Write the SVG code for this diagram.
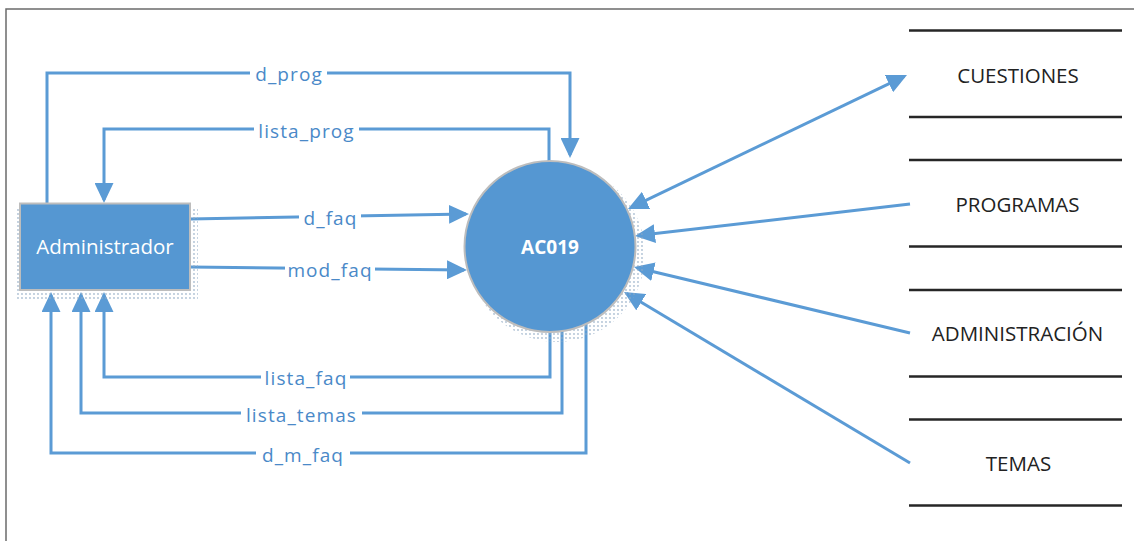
<svg xmlns="http://www.w3.org/2000/svg" width="1134" height="541" viewBox="0 0 1134 541">
<style>
.c{fill:none;stroke:#5b9bd5;stroke-width:3;stroke-linejoin:miter}
.lbl{font-family:"Open Sans",sans-serif;font-size:19px;letter-spacing:1.1px;fill:#4a89c8;text-anchor:middle}
.gap{fill:#ffffff}
.st{stroke:#262626;stroke-width:2.5}
.stt{font-family:"Open Sans",sans-serif;font-size:20.5px;fill:#222222;text-anchor:middle}
</style>
<defs>
<marker id="ah" viewBox="0 0 20 19" refX="17" refY="9.5" markerWidth="20" markerHeight="19" markerUnits="userSpaceOnUse" orient="auto-start-reverse">
<path d="M0,0 L20,9.5 L0,19 Z" fill="#5b9bd5"/>
</marker>
<pattern id="dots" width="4" height="4" patternUnits="userSpaceOnUse">
<circle cx="2" cy="2" r="0.9" fill="#8fa9c4"/>
</pattern>
</defs>
<rect width="1134" height="541" fill="#ffffff"/>
<path d="M6,541 V9 H1134" fill="none" stroke="#6b6b6b" stroke-width="1.5"/>

<g id="connectors">
<path class="c" d="M47,204 V73 H570 V155" marker-end="url(#ah)"/>
<path class="c" d="M549,161 V129 H104 V200" marker-end="url(#ah)"/>
<path class="c" d="M190,219 L466,214" marker-end="url(#ah)"/>
<path class="c" d="M190,267 L464,270" marker-end="url(#ah)"/>
<path class="c" d="M550,330 V377 H104 V295" marker-end="url(#ah)"/>
<path class="c" d="M562,330 V413 H81 V295" marker-end="url(#ah)"/>
<path class="c" d="M586,322 V453 H51 V295" marker-end="url(#ah)"/>
<path class="c" d="M630.7,207.7 L904.3,76.3" marker-start="url(#ah)" marker-end="url(#ah)"/>
<path class="c" d="M910,204 L638,235.6" marker-end="url(#ah)"/>
<path class="c" d="M910,333 L636.9,267.7" marker-end="url(#ah)"/>
<path class="c" d="M910,463 L626.6,293.5" marker-end="url(#ah)"/>

<rect class="gap" x="250" y="63" width="77" height="20"/>
<text class="lbl" x="289" y="80.5">d_prog</text>
<rect class="gap" x="254" y="119" width="105" height="20"/>
<text class="lbl" x="306.5" y="137.5">lista_prog</text>
<rect class="gap" x="299" y="206" width="62" height="20"/>
<text class="lbl" x="330.5" y="224.5">d_faq</text>
<rect class="gap" x="285" y="259" width="90" height="20"/>
<text class="lbl" x="330" y="277">mod_faq</text>
<rect class="gap" x="261" y="367" width="89" height="20"/>
<text class="lbl" x="306" y="385">lista_faq</text>
<rect class="gap" x="241" y="403" width="121" height="20"/>
<text class="lbl" x="301.5" y="421.5">lista_temas</text>
<rect class="gap" x="256" y="443" width="94" height="20"/>
<text class="lbl" x="303" y="461.5">d_m_faq</text>
</g>

<g id="admin">
<rect x="16" y="208" width="182" height="93" fill="url(#dots)" opacity="0.75"/>
<rect x="20" y="203.5" width="170" height="86.5" fill="#5597d2" stroke="#bdbdbd" stroke-width="2"/>
<text x="105" y="254" font-family="'Open Sans',sans-serif" font-size="20.5" fill="#ffffff" text-anchor="middle">Administrador</text>
</g>

<g id="ac019">
<circle cx="557" cy="254" r="88" fill="url(#dots)" opacity="0.75"/>
<circle cx="550" cy="246.5" r="85.5" fill="#5597d2" stroke="#bdbdbd" stroke-width="2"/>
<text x="550" y="253.5" font-family="'Open Sans',sans-serif" font-size="19" font-weight="bold" fill="#ffffff" text-anchor="middle">AC019</text>
</g>

<g id="cuestiones">
<line class="st" x1="909" y1="30.5" x2="1122" y2="30.5"/>
<line class="st" x1="909" y1="117" x2="1122" y2="117"/>
<text class="stt" x="1018" y="82.5">CUESTIONES</text>
</g>
<g id="programas">
<line class="st" x1="909" y1="160" x2="1122" y2="160"/>
<line class="st" x1="909" y1="246.5" x2="1122" y2="246.5"/>
<text class="stt" x="1017.5" y="212">PROGRAMAS</text>
</g>
<g id="administracion">
<line class="st" x1="909" y1="290" x2="1122" y2="290"/>
<line class="st" x1="909" y1="376.5" x2="1122" y2="376.5"/>
<text class="stt" x="1017.5" y="340.5">ADMINISTRACIÓN</text>
</g>
<g id="temas">
<line class="st" x1="909" y1="419.5" x2="1122" y2="419.5"/>
<line class="st" x1="909" y1="505.5" x2="1122" y2="505.5"/>
<text class="stt" x="1018.5" y="470.5">TEMAS</text>
</g>
</svg>
